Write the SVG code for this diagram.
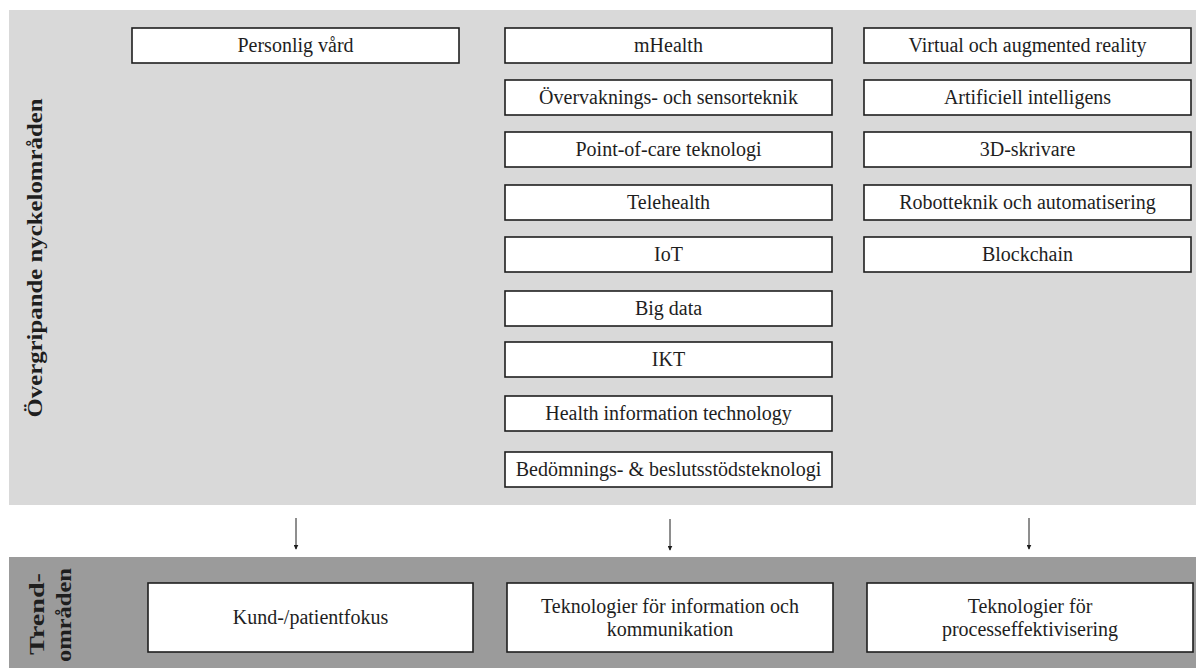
<svg xmlns="http://www.w3.org/2000/svg" width="1196" height="668" viewBox="0 0 1196 668">
  <defs>
    <style>
      .panel-top { fill: #d9d9d9; }
      .panel-bottom { fill: #9b9b9b; }
      .box { fill: #ffffff; stroke: #1e1e1e; stroke-width: 1.6; }
      .conn { stroke: #1e1e1e; stroke-width: 1; fill: none; }
    </style>
    <marker id="arrow" viewBox="0 0 8 8" refX="7" refY="4" markerWidth="5" markerHeight="5" orient="auto" markerUnits="userSpaceOnUse">
      <path d="M0,0 L8,4 L0,8 Z" fill="#1e1e1e"/>
    </marker>
  </defs>

  <rect width="1196" height="668" fill="#ffffff"/>

  <!-- background bands -->
  <rect class="panel-top" x="9" y="10" width="1187" height="495"/>
  <rect class="panel-bottom" x="9" y="557" width="1187" height="111"/>

  <!-- side headings -->
  <g font-family="'Liberation Serif', 'Times New Roman', serif" font-weight="bold" fill="#1e1e1e" text-anchor="middle">
    <text font-size="21" transform="translate(42,258) rotate(-90)" textLength="319" lengthAdjust="spacingAndGlyphs">Övergripande nyckelområden</text>
    <text font-size="21" transform="translate(44,614) rotate(-90)" textLength="82" lengthAdjust="spacingAndGlyphs">Trend-</text>
    <text font-size="21" transform="translate(71,615) rotate(-90)" textLength="94" lengthAdjust="spacingAndGlyphs">områden</text>
  </g>

  <g font-family="'Liberation Serif', 'Times New Roman', serif" font-size="20" fill="#1e1e1e" text-anchor="middle">
    <!-- column 1 -->
    <g id="personlig-vard">
      <rect class="box" x="132" y="28" width="327" height="35"/>
      <text x="295.5" y="52">Personlig vård</text>
    </g>

    <!-- column 2 -->
    <g id="mhealth">
      <rect class="box" x="505" y="28" width="327" height="35"/>
      <text x="668.5" y="52">mHealth</text>
    </g>
    <g id="overvakning">
      <rect class="box" x="505" y="80" width="327" height="35"/>
      <text x="668.5" y="104">Övervaknings- och sensorteknik</text>
    </g>
    <g id="point-of-care">
      <rect class="box" x="505" y="132" width="327" height="35"/>
      <text x="668.5" y="156">Point-of-care teknologi</text>
    </g>
    <g id="telehealth">
      <rect class="box" x="505" y="185" width="327" height="35"/>
      <text x="668.5" y="209">Telehealth</text>
    </g>
    <g id="iot">
      <rect class="box" x="505" y="237" width="327" height="35"/>
      <text x="668.5" y="261">IoT</text>
    </g>
    <g id="big-data">
      <rect class="box" x="505" y="291" width="327" height="35"/>
      <text x="668.5" y="315">Big data</text>
    </g>
    <g id="ikt">
      <rect class="box" x="505" y="342" width="327" height="35"/>
      <text x="668.5" y="366">IKT</text>
    </g>
    <g id="health-it">
      <rect class="box" x="505" y="396" width="327" height="35"/>
      <text x="668.5" y="420">Health information technology</text>
    </g>
    <g id="bedomning">
      <rect class="box" x="505" y="452" width="327" height="35"/>
      <text x="668.5" y="476">Bedömnings- &amp; beslutsstödsteknologi</text>
    </g>

    <!-- column 3 -->
    <g id="vr-ar">
      <rect class="box" x="864" y="28" width="327" height="35"/>
      <text x="1027.5" y="52">Virtual och augmented reality</text>
    </g>
    <g id="ai">
      <rect class="box" x="864" y="80" width="327" height="35"/>
      <text x="1027.5" y="104">Artificiell intelligens</text>
    </g>
    <g id="printing-3d">
      <rect class="box" x="864" y="132" width="327" height="35"/>
      <text x="1027.5" y="156">3D-skrivare</text>
    </g>
    <g id="robotics">
      <rect class="box" x="864" y="185" width="327" height="35"/>
      <text x="1027.5" y="209">Robotteknik och automatisering</text>
    </g>
    <g id="blockchain">
      <rect class="box" x="864" y="237" width="327" height="35"/>
      <text x="1027.5" y="261">Blockchain</text>
    </g>

    <!-- trend areas -->
    <g id="kund-patient">
      <rect class="box" x="148" y="583" width="325" height="69"/>
      <text x="310.5" y="624">Kund-/patientfokus</text>
    </g>
    <g id="info-komm">
      <rect class="box" x="507" y="583" width="326" height="69"/>
      <text x="670" y="613">Teknologier för information och</text>
      <text x="670" y="636">kommunikation</text>
    </g>
    <g id="processeff">
      <rect class="box" x="867" y="583" width="326" height="69"/>
      <text x="1030" y="613">Teknologier för</text>
      <text x="1030" y="636">processeffektivisering</text>
    </g>
  </g>

  <!-- connectors -->
  <g id="connectors">
    <line class="conn" x1="296" y1="518" x2="296" y2="549" marker-end="url(#arrow)"/>
    <line class="conn" x1="670" y1="519" x2="670" y2="550" marker-end="url(#arrow)"/>
    <line class="conn" x1="1029" y1="518" x2="1029" y2="549" marker-end="url(#arrow)"/>
  </g>
</svg>
